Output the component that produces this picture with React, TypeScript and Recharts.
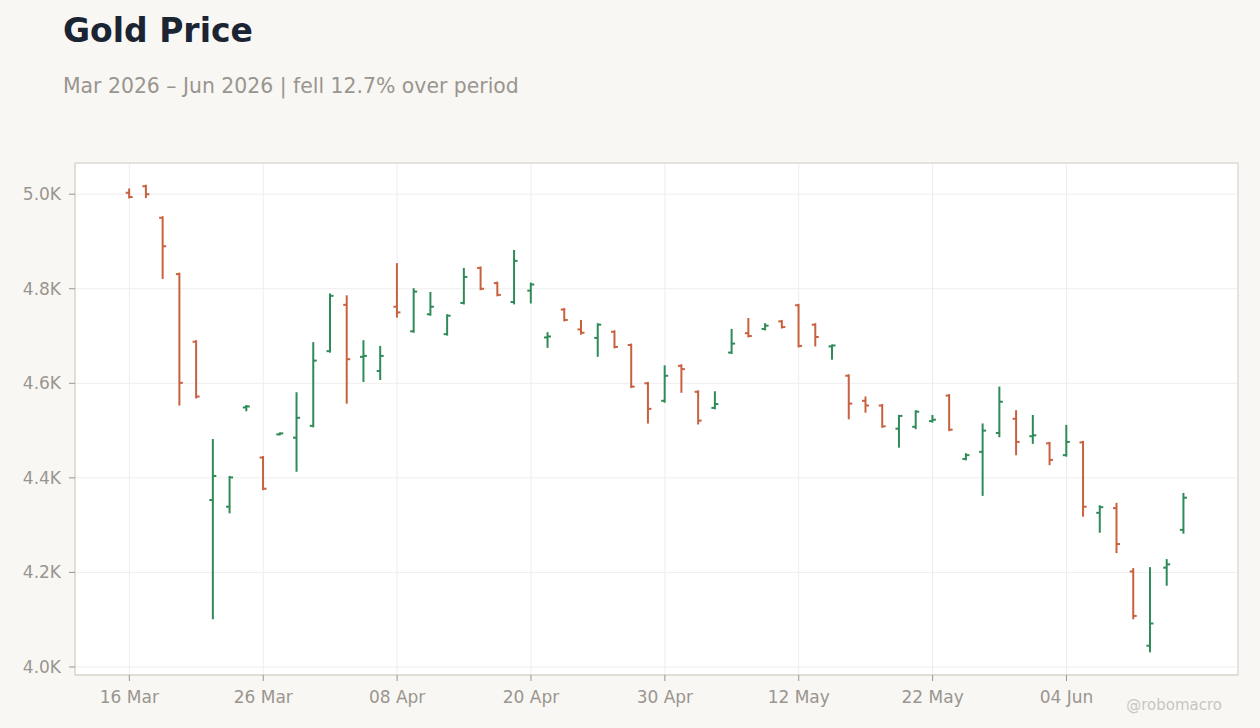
import React from "react";
import * as R from "recharts";
import { ComposedChart, Bar, XAxis, YAxis, CartesianGrid } from "recharts";

const dates = [
  "16 Mar", "17 Mar", "18 Mar", "19 Mar", "20 Mar", "23 Mar", "24 Mar", "25 Mar", "26 Mar", "27 Mar",
  "30 Mar", "31 Mar", "01 Apr", "02 Apr", "06 Apr", "07 Apr", "08 Apr", "09 Apr", "10 Apr", "13 Apr",
  "14 Apr", "15 Apr", "16 Apr", "17 Apr", "20 Apr", "21 Apr", "22 Apr", "23 Apr", "24 Apr", "27 Apr",
  "28 Apr", "29 Apr", "30 Apr", "01 May", "04 May", "05 May", "06 May", "07 May", "08 May", "11 May",
  "12 May", "13 May", "14 May", "15 May", "18 May", "19 May", "20 May", "21 May", "22 May", "26 May",
  "27 May", "28 May", "29 May", "01 Jun", "02 Jun", "03 Jun", "04 Jun", "05 Jun", "08 Jun", "09 Jun",
  "10 Jun", "11 Jun", "12 Jun", "15 Jun",
];

const opens = [
  5003, 5017, 4950, 4831, 4688, 4353, 4339, 4549, 4443, 4492,
  4485, 4510, 4668, 4766, 4656, 4626, 4762, 4710, 4746, 4704,
  4770, 4844, 4812, 4772, 4796, 4697, 4756, 4714, 4696, 4709,
  4681, 4600, 4563, 4637, 4582, 4548, 4665, 4706, 4715, 4731,
  4765, 4724, 4678, 4616, 4563, 4553, 4504, 4508, 4520, 4574,
  4440, 4455, 4495, 4525, 4488, 4473, 4448, 4475, 4326, 4336,
  4202, 4045, 4210, 4290,
];

const highs = [
  5010, 5018, 4951, 4832, 4689, 4480, 4402, 4552, 4444, 4494,
  4579, 4685, 4788, 4784, 4689, 4677, 4852, 4799, 4791, 4744,
  4842, 4845, 4813, 4880, 4811, 4706, 4757, 4732, 4725, 4710,
  4682, 4601, 4636, 4638, 4583, 4581, 4713, 4736, 4725, 4732,
  4766, 4725, 4680, 4617, 4570, 4554, 4531, 4541, 4531, 4575,
  4450, 4513, 4591, 4541, 4531, 4474, 4510, 4476, 4340, 4345,
  4207, 4209, 4226, 4366,
];

const lows = [
  4993, 4994, 4823, 4555, 4570, 4103, 4327, 4543, 4376, 4492,
  4415, 4509, 4667, 4559, 4605, 4609, 4741, 4709, 4745, 4703,
  4769, 4799, 4786, 4769, 4771, 4677, 4733, 4705, 4658, 4676,
  4592, 4517, 4561, 4582, 4515, 4547, 4664, 4699, 4714, 4718,
  4678, 4680, 4652, 4526, 4540, 4508, 4466, 4505, 4519, 4501,
  4439, 4364, 4488, 4450, 4474, 4429, 4447, 4320, 4286, 4243,
  4103, 4033, 4174, 4284,
];

const closes = [
  4994, 5000, 4890, 4601, 4572, 4404, 4401, 4551, 4377, 4494,
  4527, 4648, 4785, 4651, 4658, 4658, 4750, 4794, 4762, 4743,
  4825, 4800, 4787, 4859, 4809, 4699, 4734, 4707, 4724, 4677,
  4593, 4546, 4616, 4630, 4521, 4556, 4684, 4700, 4722, 4719,
  4679, 4698, 4680, 4557, 4553, 4509, 4531, 4540, 4523, 4502,
  4448, 4500, 4561, 4476, 4490, 4438, 4476, 4339, 4338, 4260,
  4108, 4092, 4217, 4358,
];

const yTicks = [4000, 4200, 4400, 4600, 4800, 5000];

const UP = "#2e8b57";
const DOWN = "#c8613f";
const TICK_COLOR = "#9a958f";
const FONT = "DejaVu Sans, sans-serif";

const data = dates.map((d, i) => ({
  date: d,
  open: opens[i],
  high: highs[i],
  low: lows[i],
  close: closes[i],
  range: [lows[i], highs[i]],
}));

const OhlcShape = (props: any) => {
  const { x, y, width, height, payload } = props;
  if (x == null || y == null || !payload) return null;
  const top = Math.min(y, y + height);
  const bottom = Math.max(y, y + height);
  const span = payload.high - payload.low;
  const pos = (v: number) =>
    span === 0 ? top : top + ((payload.high - v) / span) * (bottom - top);
  const cx = x + width / 2;
  const color = payload.close >= payload.open ? UP : DOWN;
  const yo = pos(payload.open);
  const yc = pos(payload.close);
  const t = 3.5;
  return (
    <g>
      <line x1={cx} x2={cx} y1={top - 1} y2={bottom + 1} stroke={color} strokeWidth={2} />
      <line x1={cx - t} x2={cx} y1={yo} y2={yo} stroke={color} strokeWidth={2} />
      <line x1={cx} x2={cx + t} y1={yc} y2={yc} stroke={color} strokeWidth={2} />
    </g>
  );
};

const PlotBorder = () => {
  const hook = (R as any).usePlotArea;
  const pa = hook ? hook() : null;
  if (!pa) return null;
  return (
    <rect
      x={pa.x}
      y={pa.y}
      width={pa.width}
      height={pa.height}
      fill="none"
      stroke="#dcd7cf"
      strokeWidth={1.2}
    />
  );
};

export default function App() {
  return (
    <div
      style={{
        position: "absolute",
        left: 0,
        top: 0,
        width: 1260,
        height: 728,
        background: "#f8f7f4",
        fontFamily: FONT,
        overflow: "hidden",
      }}
    >
      <svg
        width={1260}
        height={728}
        style={{ position: "absolute", left: 0, top: 0, pointerEvents: "none" }}
      >
        <text x={63} y={42} fontSize={33} fontWeight="bold" fill="#1b2433" fontFamily={FONT}>
          Gold Price
        </text>
        <text x={63} y={93} fontSize={20.4} fill="#9a958f" fontFamily={FONT}>
          Mar 2026 – Jun 2026 | fell 12.7% over period
        </text>
      </svg>
      <div style={{ position: "absolute", left: 0, top: 0 }}>
        <ComposedChart
          width={1260}
          height={728}
          data={data}
          margin={{ top: 163, right: 22, bottom: 0, left: 0 }}
          style={{ fontFamily: FONT }}
        >
          <CartesianGrid stroke="#eeeeee" fill="#ffffff" />
          <XAxis
            dataKey="date"
            type="category"
            interval={7}
            height={53}
            padding={{ left: 46, right: 46 }}
            tick={{ fill: TICK_COLOR, fontSize: 17, fontFamily: FONT }}
            tickLine={{ stroke: TICK_COLOR }}
            tickSize={6}
            tickMargin={10}
            axisLine={{ stroke: "#dcd7cf" }}
          />
          <YAxis
            type="number"
            domain={[3983, 5066]}
            ticks={yTicks}
            width={75}
            allowDataOverflow
            tickFormatter={(v: number) => (v / 1000).toFixed(1) + "K"}
            tick={{ fill: TICK_COLOR, fontSize: 17, fontFamily: FONT }}
            tickLine={{ stroke: TICK_COLOR }}
            tickSize={6}
            tickMargin={8}
            axisLine={{ stroke: "#dcd7cf" }}
          />
          <Bar dataKey="range" shape={<OhlcShape />} isAnimationActive={false} />
          <PlotBorder />
        </ComposedChart>
      </div>
      <svg
        width={1260}
        height={728}
        style={{ position: "absolute", left: 0, top: 0, pointerEvents: "none" }}
      >
        <text x={1222} y={710} fontSize={15} fill="#c9c6c1" textAnchor="end" fontFamily={FONT}>
          @robomacro
        </text>
      </svg>
    </div>
  );
}
